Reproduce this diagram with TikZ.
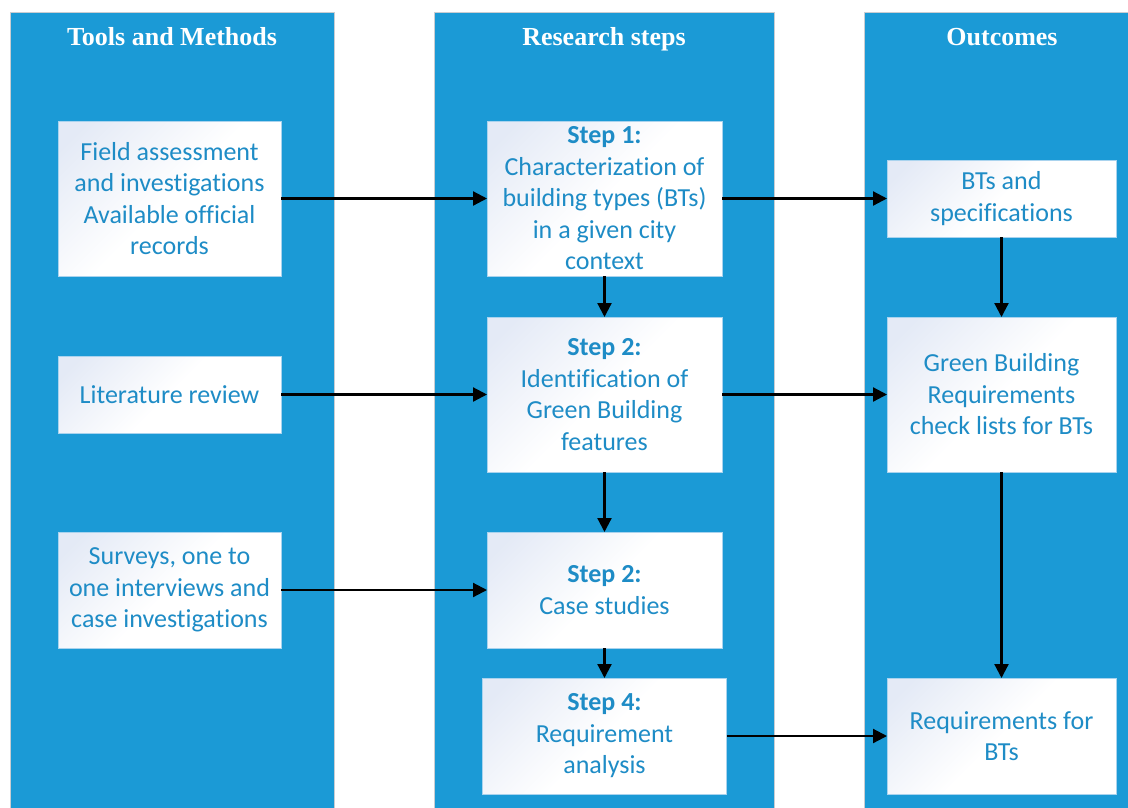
\documentclass[tikz,border=0pt]{standalone}
\usepackage{fontspec}
\setmainfont{Carlito}[Ligatures=NoCommon]
\newfontfamily\headfont{Liberation Serif}
\usetikzlibrary{arrows.meta}
\definecolor{colblue}{HTML}{1B9AD6}
\definecolor{coledge}{HTML}{C9CDD2}
\definecolor{boxtext}{HTML}{1E8CC6}
\definecolor{boxtint}{HTML}{E4EAF6}
\definecolor{boxedge}{HTML}{A9D3EE}
% soft tint that fades to white away from one corner
\pgfdeclareverticalshading{cardshade}{100bp}{%
  color(0bp)=(white); color(50bp)=(white); color(80bp)=(boxtint); color(100bp)=(boxtint)}
\begin{document}
\begin{tikzpicture}[x=1pt,y=-1pt,
  column/.style={fill=colblue,draw=coledge,line width=1pt},
  header/.style={text=white,font=\headfont\bfseries\fontsize{26}{30}\selectfont,anchor=base},
  card/.style={draw=boxedge,line width=0.8pt,
    shading=cardshade,shading angle=45,
    text=boxtext,font=\fontsize{26}{31.5}\selectfont,align=center,
    inner sep=0pt,outer sep=0pt},
  link/.style={line width=2.2pt,-{Triangle[length=14pt,width=14pt]}}
]
\useasboundingbox (0,0) rectangle (1128,807);
\clip (0,0) rectangle (1128,807);

% three column panels
\draw[column] (10,12.5) rectangle (334,820);
\draw[column] (434,12.5) rectangle (774,820);
\draw[column] (864.5,12.5) rectangle (1145,820);

\node[header] (h1) at (172,45) {Tools and Methods};
\node[header] (h2) at (604,45) {Research steps};
\node[header] (h3) at (1002,45) {Outcomes};

% tools and methods
\node[card,minimum width=223pt,minimum height=155pt] (l1) at (169.5,198.5)
  {Field assessment\\and investigations\\Available official\\records};
\node[card,minimum width=223pt,minimum height=77pt] (l2) at (169.5,394.5)
  {Literature review};
\node[card,minimum width=223pt,minimum height=116pt] (l3) at (169.5,590)
  {Surveys, one to\\one interviews and\\case investigations};

% research steps
\node[card,minimum width=235pt,minimum height=155pt] (s1) at (604.5,198.5)
  {\textbf{Step 1:}\\Characterization of\\building types (BTs)\\in a given city\\context};
\node[card,minimum width=235pt,minimum height=155pt] (s2) at (604.5,394.5)
  {\textbf{Step 2:}\\Identification of\\Green Building\\features};
\node[card,minimum width=235pt,minimum height=116pt] (s3) at (604.5,590)
  {\textbf{Step 2:}\\Case studies};
\node[card,minimum width=244.5pt,minimum height=116pt] (s4) at (604.5,736)
  {\textbf{Step 4:}\\Requirement\\analysis};

% outcomes
\node[card,minimum width=229pt,minimum height=77pt] (r1) at (1001.5,198.5)
  {BTs and\\specifications};
\node[card,minimum width=229pt,minimum height=155pt] (r2) at (1001.5,394.5)
  {Green Building\\Requirements\\check lists for BTs};
\node[card,minimum width=229pt,minimum height=116pt] (r3) at (1001.5,736)
  {Requirements for\\BTs};

% connectors
\draw[link] (l1) -- (s1);
\draw[link] (l2) -- (s2);
\draw[link] (l3) -- (s3);
\draw[link] (s1) -- (s2);
\draw[link] (s2) -- (s3);
\draw[link] (s3) -- (s4);
\draw[link] (s1) -- (r1);
\draw[link] (s2) -- (r2);
\draw[link] (s4) -- (r3);
\draw[link] (r1) -- (r2);
\draw[link] (r2) -- (r3);
\end{tikzpicture}
\end{document}
